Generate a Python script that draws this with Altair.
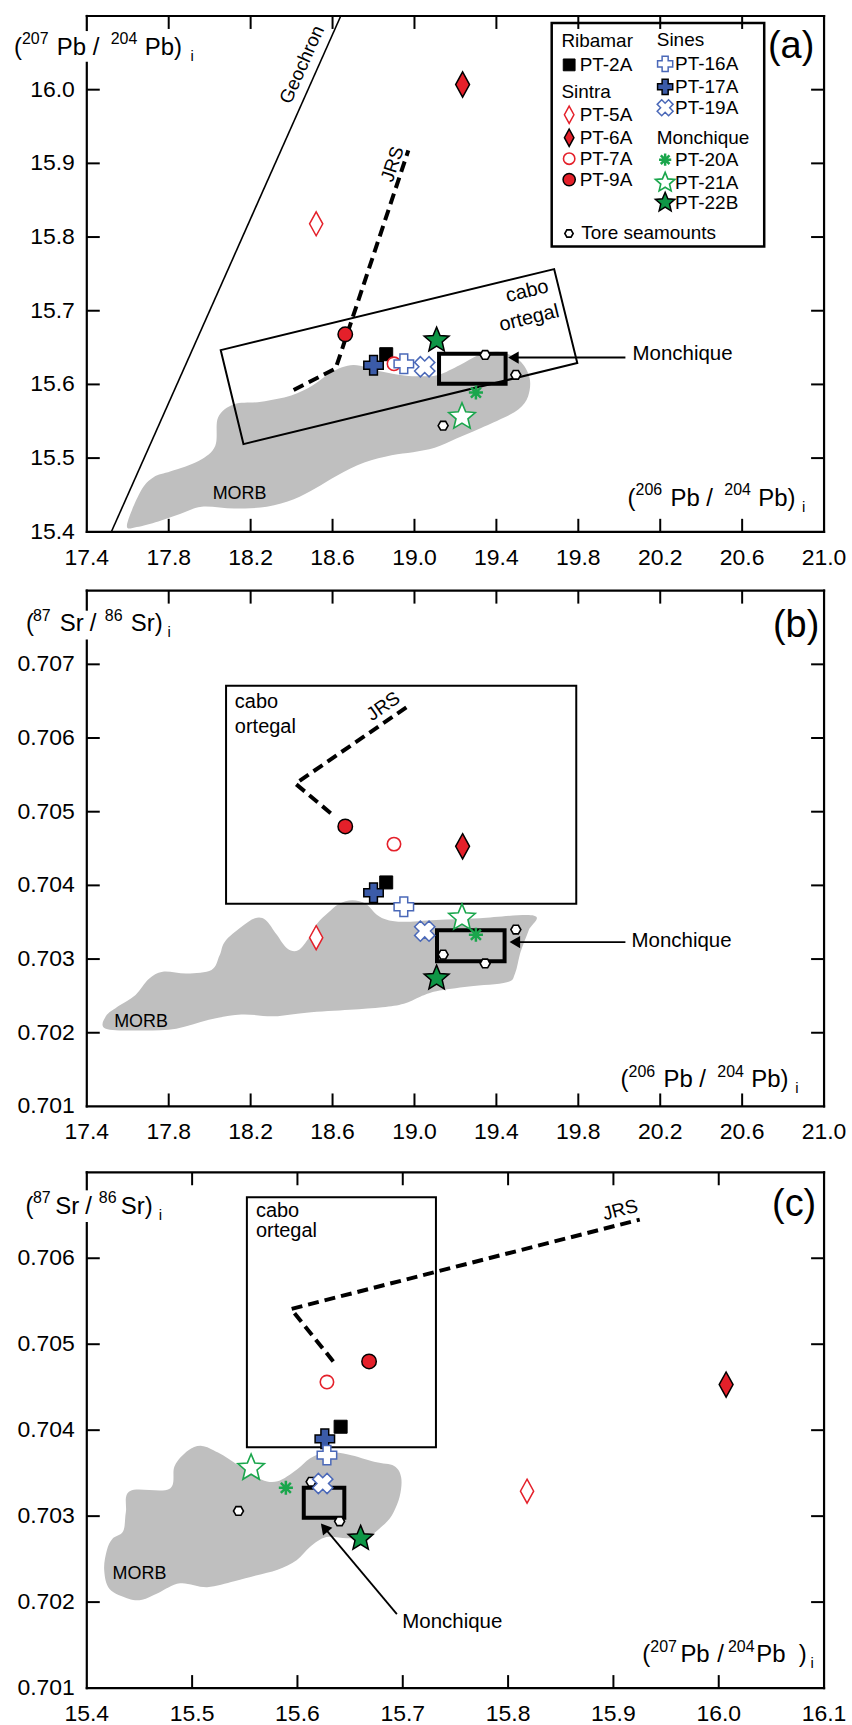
import altair as alt
import pandas as pd

# ---------------- data ----------------
samples = ["PT-2A", "PT-5A", "PT-6A", "PT-7A", "PT-9A", "PT-17A", "PT-16A",
           "PT-19A", "PT-20A", "PT-21A", "PT-22B"]
pb206 = [18.862, 18.52, 19.235, 18.90, 18.662, 18.80, 18.948, 19.05, 19.30, 19.232, 19.108]
pb207 = [15.641, 15.818, 16.007, 15.628, 15.668, 15.626, 15.628, 15.624, 15.589, 15.556, 15.660]
sr = [0.70404, 0.70329, 0.70453, 0.70456, 0.70480, 0.70390, 0.70371, 0.70338, 0.70333, 0.70356, 0.70274]

tore_pb206 = [19.495, 19.140, 19.345]
tore_pb207 = [15.613, 15.544, 15.640]
tore_sr = [0.70340, 0.70306, 0.70294]

# MORB field outlines
morb_a_x = [17.596, 17.663, 17.726, 17.81, 17.948, 18.027, 18.041, 18.12, 18.252, 18.398, 18.504,
            18.596, 18.702, 18.832, 18.95, 19.05, 19.12, 19.22, 19.32, 19.42, 19.514, 19.562,
            19.555, 19.51, 19.43, 19.311, 19.205, 19.099, 18.993, 18.888, 18.755, 18.623, 18.517,
            18.411, 18.279, 18.12, 17.961, 17.855, 17.749, 17.644]
morb_a_y = [15.409, 15.455, 15.474, 15.482, 15.4965, 15.5165, 15.555, 15.573, 15.5765, 15.585, 15.599,
            15.617, 15.6265, 15.618, 15.612, 15.611, 15.613, 15.626, 15.6406, 15.644, 15.632, 15.609,
            15.584, 15.5665, 15.554, 15.539, 15.5265, 15.514, 15.508, 15.504, 15.494, 15.4765, 15.459,
            15.444, 15.434, 15.4315, 15.434, 15.424, 15.414, 15.4065]
morb_b_x = [17.493, 17.678, 17.837, 17.996, 18.154, 18.313, 18.472, 18.684, 18.843, 18.948, 19.028,
            19.107, 19.266, 19.451, 19.491, 19.518, 19.557, 19.584, 19.319, 19.107, 18.948, 18.869,
            18.816, 18.763, 18.697, 18.631, 18.578, 18.525, 18.485, 18.432, 18.379, 18.326, 18.273,
            18.221, 18.154, 18.075, 18.048, 18.009, 17.890, 17.771, 17.704, 17.638, 17.559, 17.493]
morb_b_y = [0.702055, 0.702031, 0.702055, 0.702176, 0.702248, 0.702224, 0.702273, 0.702311, 0.702345,
            0.702394, 0.702490, 0.702563, 0.702626, 0.702684, 0.702805, 0.703095, 0.703385, 0.703589,
            0.703555, 0.703531, 0.703506, 0.703531, 0.703603, 0.703748, 0.703797, 0.703748, 0.703627,
            0.703482, 0.703289, 0.703119, 0.703144, 0.703337, 0.703531, 0.703555, 0.703434, 0.703240,
            0.703047, 0.702853, 0.702805, 0.702829, 0.702732, 0.702514, 0.702369, 0.702224]
morb_c_x = [15.4412, 15.4782, 15.4834, 15.4962, 15.5091, 15.5246, 15.5451, 15.5657, 15.5812, 15.5992,
            15.6121, 15.6275, 15.6481, 15.6738, 15.6918, 15.6985, 15.697, 15.6893, 15.679, 15.6687,
            15.6481, 15.6275, 15.6121, 15.5992, 15.5812, 15.5606, 15.54, 15.5143, 15.4885, 15.4679,
            15.4525, 15.4396, 15.4216, 15.4165, 15.419, 15.4242, 15.4345, 15.4371]
morb_c_y = [0.703293, 0.703315, 0.703584, 0.703763, 0.703817, 0.703740, 0.703584, 0.703427, 0.703405,
            0.703539, 0.703673, 0.703740, 0.703718, 0.703629, 0.703584, 0.703450, 0.703226, 0.703002,
            0.702868, 0.702779, 0.702743, 0.702756, 0.702644, 0.702488, 0.702376, 0.702309, 0.702242,
            0.702174, 0.702219, 0.702107, 0.702027, 0.702040, 0.702152, 0.702376, 0.702600, 0.702734,
            0.702823, 0.703047]

geochron_x = [17.52, 18.64]
geochron_y = [15.4, 16.1]

jrs_a_x = [18.41, 18.615, 18.97]
jrs_a_y = [15.5925, 15.6215, 15.9175]
jrs_b_x = [18.591, 18.419, 18.962]
jrs_b_y = [0.70498, 0.70538, 0.70642]
jrs_c_x = [15.634, 15.594, 15.925]
jrs_c_y = [0.70480, 0.70541, 0.70645]

cabo_a_x = [18.054, 19.682, 19.795, 18.165]
cabo_a_y = [15.6465, 15.7565, 15.629, 15.519]
cabo_b = [18.08, 19.79, 0.70375, 0.70671]
cabo_c = [15.552, 15.7315, 0.7038, 0.70671]

mon_a = [19.12, 19.445, 15.601, 15.6415]
mon_b = [19.11, 19.44, 0.70297, 0.70339]
mon_c = [15.606, 15.6445, 0.70298, 0.70333]

# axis values / tick labels
xa_vals = [17.4, 17.8, 18.2, 18.6, 19.0, 19.4, 19.8, 20.2, 20.6, 21.0]
ya_vals = [15.4, 15.5, 15.6, 15.7, 15.8, 15.9, 16.0]
yb_vals = [0.701, 0.702, 0.703, 0.704, 0.705, 0.706, 0.707]
xc_vals = [15.4, 15.5, 15.6, 15.7, 15.8, 15.9, 16.0, 16.1]
yc_vals = [0.701, 0.702, 0.703, 0.704, 0.705, 0.706]

# ---------------- styles ----------------
W, H = 739, 517
TICK = 13
FONT = "Liberation Sans"
LABEL_FS = 23
RED = "#e4202a"
BLUE = "#3b5ba8"
BLUE_L = "#4a68b8"
GREEN = "#1aa64c"
GREEN_D = "#0e9646"
GRAY = "#bfbfbf"

DIAMOND = "M0,-1L0.55,0L0,1L-0.55,0Z"
STAR = ("M0,-1L0.265,-0.364L0.951,-0.309L0.428,0.139L0.588,0.809L0,0.45L-0.588,0.809"
        "L-0.428,0.139L-0.951,-0.309L-0.265,-0.364Z")
AST = "M0,-1L0,1M-1,0L1,0M-0.71,-0.71L0.71,0.71M-0.71,0.71L0.71,-0.71"
HEX = "M1,0L0.5,0.866L-0.5,0.866L-1,0L-0.5,-0.866L0.5,-0.866Z"

style = {
    "PT-2A": dict(shape="square", fill="black", stroke="black", size=170, sw=1, angle=0),
    "PT-5A": dict(shape=DIAMOND, fill="white", stroke=RED, size=580, sw=1.5, angle=0),
    "PT-6A": dict(shape=DIAMOND, fill=RED, stroke="black", size=640, sw=1.5, angle=0),
    "PT-7A": dict(shape="circle", fill="white", stroke=RED, size=180, sw=1.6, angle=0),
    "PT-9A": dict(shape="circle", fill=RED, stroke="black", size=210, sw=1.5, angle=0),
    "PT-16A": dict(shape="cross", fill="white", stroke=BLUE_L, size=380, sw=1.5, angle=0),
    "PT-17A": dict(shape="cross", fill=BLUE, stroke="black", size=380, sw=1.5, angle=0),
    "PT-19A": dict(shape="cross", fill="white", stroke=BLUE_L, size=420, sw=1.5, angle=45),
    "PT-20A": dict(shape=AST, fill="transparent", stroke=GREEN, size=200, sw=2.5, angle=0),
    "PT-21A": dict(shape=STAR, fill="white", stroke=GREEN, size=780, sw=1.6, angle=0),
    "PT-22B": dict(shape=STAR, fill=GREEN_D, stroke="black", size=690, sw=1.5, angle=0),
    "Tore": dict(shape=HEX, fill="white", stroke="black", size=100, sw=1.6, angle=0),
}
leg_size = {"PT-2A": 140, "PT-5A": 300, "PT-6A": 300, "PT-7A": 130, "PT-9A": 150, "PT-16A": 230,
            "PT-17A": 230, "PT-19A": 260, "PT-20A": 150, "PT-21A": 420, "PT-22B": 420, "Tore": 70}

one = pd.DataFrame({"a": [0]})


def sample_table(xv, yv, txv, tyv):
    rows = []
    for x, y in zip(txv, tyv):
        rows.append(dict(x=x, y=y, **style["Tore"]))
    for s, x, y in zip(samples, xv, yv):
        rows.append(dict(x=x, y=y, **style[s]))
    return pd.DataFrame(rows)


def points_layer(df, xs, ys):
    return alt.Chart(df).mark_point(filled=True, opacity=1).encode(
        x=alt.X("x:Q", scale=xs, axis=None), y=alt.Y("y:Q", scale=ys, axis=None),
        shape=alt.Shape("shape:N", scale=None), fill=alt.Fill("fill:N", scale=None),
        stroke=alt.Stroke("stroke:N", scale=None), size=alt.Size("size:Q", scale=None),
        strokeWidth=alt.StrokeWidth("sw:Q", scale=None), angle=alt.Angle("angle:Q", scale=None))


def label_layers(xv, yv, xs, ys, yfmt):
    dx = pd.DataFrame({"v": xv, "lab": [f"{v:.1f}" for v in xv]})
    dy = pd.DataFrame({"v": yv, "lab": [format(v, yfmt) for v in yv]})
    xl = alt.Chart(dx).mark_text(font=FONT, fontSize=LABEL_FS, align="center", baseline="alphabetic",
                                 color="black").encode(
        x=alt.X("v:Q", scale=xs, axis=None), y=alt.value(H + 33), text="lab:N")
    yl = alt.Chart(dy).mark_text(font=FONT, fontSize=LABEL_FS, align="right", baseline="middle",
                                 color="black").encode(
        y=alt.Y("v:Q", scale=ys, axis=None), x=alt.value(-12), text="lab:N")
    return [xl, yl]


def morb_layer(mx, my, xs, ys):
    df = pd.DataFrame({"x": mx, "y": my, "i": list(range(len(mx)))})
    return alt.Chart(df).mark_line(fill=GRAY, stroke="transparent", interpolate="cardinal-closed").encode(
        x=alt.X("x:Q", scale=xs, axis=None), y=alt.Y("y:Q", scale=ys, axis=None), order="i:Q")


def path_layer(px, py, xs, ys, closed=False, dash=None, width=2.0):
    df = pd.DataFrame({"x": px, "y": py, "i": list(range(len(px)))})
    kw = dict(color="black", strokeWidth=width, interpolate="linear-closed" if closed else "linear")
    if dash:
        kw["strokeDash"] = dash
    return alt.Chart(df).mark_line(**kw).encode(
        x=alt.X("x:Q", scale=xs, axis=None), y=alt.Y("y:Q", scale=ys, axis=None), order="i:Q")


def rect_layer(r, xs, ys, width):
    df = pd.DataFrame({"x1": [r[0]], "x2": [r[1]], "y1": [r[2]], "y2": [r[3]]})
    return alt.Chart(df).mark_rect(fill="transparent", stroke="black", strokeWidth=width).encode(
        x=alt.X("x1:Q", scale=xs, axis=None), x2="x2:Q",
        y=alt.Y("y1:Q", scale=ys, axis=None), y2="y2:Q")


def arrow_layers(x0, y0, x1, y1, hx, hy, shape, ang, xs, ys):
    line = alt.Chart(pd.DataFrame({"x": [x0], "y": [y0], "x2": [x1], "y2": [y1]})).mark_rule(
        color="black", strokeWidth=1.8).encode(
        x=alt.X("x:Q", scale=xs, axis=None), y=alt.Y("y:Q", scale=ys, axis=None), x2="x2:Q", y2="y2:Q")
    head = alt.Chart(pd.DataFrame({"x": [hx], "y": [hy]})).mark_point(
        shape=shape, filled=True, color="black", size=150, opacity=1, angle=ang).encode(
        x=alt.X("x:Q", scale=xs, axis=None), y=alt.Y("y:Q", scale=ys, axis=None))
    return [line, head]


def data_text_layer(rows, xs, ys, align="center"):
    df = pd.DataFrame(rows, columns=["t", "x", "y", "angle", "fs"])
    return alt.Chart(df).mark_text(font=FONT, align=align, baseline="middle", color="black").encode(
        x=alt.X("x:Q", scale=xs, axis=None), y=alt.Y("y:Q", scale=ys, axis=None), text="t:N",
        angle=alt.Angle("angle:Q", scale=None), size=alt.Size("fs:Q", scale=None))


def px_text_layer(rows, align="left", baseline="alphabetic"):
    df = pd.DataFrame(rows, columns=["t", "px", "py", "fs"])
    return alt.Chart(df).mark_text(font=FONT, align=align, baseline=baseline, color="black").encode(
        x=alt.X("px:Q", scale=None, axis=None), y=alt.Y("py:Q", scale=None, axis=None), text="t:N",
        size=alt.Size("fs:Q", scale=None))


def tick_layers(xv, yv, xs, ys):
    dx = pd.DataFrame({"v": xv})
    dy = pd.DataFrame({"v": yv})
    out = []
    for a, b in ((H, H - TICK), (0, TICK)):
        out.append(alt.Chart(dx).mark_rule(color="black", strokeWidth=2).encode(
            x=alt.X("v:Q", scale=xs, axis=None), y=alt.value(a), y2=alt.value(b)))
    for a, b in ((0, TICK), (W, W - TICK)):
        out.append(alt.Chart(dy).mark_rule(color="black", strokeWidth=2).encode(
            y=alt.Y("v:Q", scale=ys, axis=None), x=alt.value(a), x2=alt.value(b)))
    return out


def frame_layers(g0, g1):
    segs = [dict(x=alt.value(0), x2=alt.value(W), y=alt.value(0)),
            dict(x=alt.value(0), x2=alt.value(W), y=alt.value(H)),
            dict(x=alt.value(W), y=alt.value(0), y2=alt.value(H)),
            dict(x=alt.value(0), y=alt.value(0), y2=alt.value(g0)),
            dict(x=alt.value(0), y=alt.value(g1), y2=alt.value(H))]
    return [alt.Chart(one).mark_rule(color="black", strokeWidth=2.2, strokeCap="square").encode(**s)
            for s in segs]


# ---------------- panel (a) ----------------
xs_a = alt.Scale(domain=[17.4, 21.0], nice=False, zero=False)
ys_a = alt.Scale(domain=[15.4, 16.1], nice=False, zero=False)

legend_col1 = [("Ribamar", None, 25), ("PT-2A", "PT-2A", 49), ("Sintra", None, 76),
               ("PT-5A", "PT-5A", 99), ("PT-6A", "PT-6A", 122), ("PT-7A", "PT-7A", 143),
               ("PT-9A", "PT-9A", 164)]
legend_col2 = [("Sines", None, 24), ("PT-16A", "PT-16A", 48), ("PT-17A", "PT-17A", 71),
               ("PT-19A", "PT-19A", 92), ("Monchique", None, 122), ("PT-20A", "PT-20A", 144),
               ("PT-21A", "PT-21A", 167), ("PT-22B", "PT-22B", 187)]
leg_text, leg_mark = [], []
for col, (hx, mx, tx) in ((legend_col1, (475.7, 483.5, 494)), (legend_col2, (571.3, 579.7, 589.7))):
    for label, key, yy in col:
        if key is None:
            leg_text.append((label, hx, yy, 19))
        else:
            leg_text.append((label, tx, yy, 19))
            leg_mark.append(dict(x=mx, y=yy, **dict(style[key], size=leg_size[key])))
leg_text.append(("Tore seamounts", 495.7, 218, 19))
leg_mark.append(dict(x=483.3, y=218, **dict(style["Tore"], size=leg_size["Tore"])))
leg_mark_df = pd.DataFrame(leg_mark)

legend_layers = [
    alt.Chart(one).mark_rect(fill="white", stroke="black", strokeWidth=2.5).encode(
        x=alt.value(466), x2=alt.value(679), y=alt.value(7), y2=alt.value(231)),
    alt.Chart(leg_mark_df).mark_point(filled=True, opacity=1).encode(
        x=alt.X("x:Q", scale=None, axis=None), y=alt.Y("y:Q", scale=None, axis=None),
        shape=alt.Shape("shape:N", scale=None), fill=alt.Fill("fill:N", scale=None),
        stroke=alt.Stroke("stroke:N", scale=None), size=alt.Size("size:Q", scale=None),
        strokeWidth=alt.StrokeWidth("sw:Q", scale=None), angle=alt.Angle("angle:Q", scale=None)),
    px_text_layer(leg_text, "left", "middle"),
]

title_a = [("(", -73, 39, 24), ("207", -65, 28, 16), ("Pb", -30, 39, 24), ("/", 6, 39, 24),
           ("204", 24, 28, 16), ("Pb)", 58, 39, 24), ("i", 104, 45, 15),
           ("(", 542, 491, 24), ("206", 550, 480, 16), ("Pb", 585, 491, 24), ("/", 621, 491, 24),
           ("204", 639, 480, 16), ("Pb)", 673, 491, 24), ("i", 717, 497, 15)]

panel_a = alt.layer(
    morb_layer(morb_a_x, morb_a_y, xs_a, ys_a),
    path_layer(geochron_x, geochron_y, xs_a, ys_a, width=1.6),
    path_layer(cabo_a_x, cabo_a_y, xs_a, ys_a, closed=True, width=2.0),
    path_layer(jrs_a_x, jrs_a_y, xs_a, ys_a, dash=[11, 6], width=4),
    rect_layer(mon_a, xs_a, ys_a, 4),
    *arrow_layers(20.03, 15.6365, 19.49, 15.6365, 19.483, 15.6365, "triangle-left", 0, xs_a, ys_a),
    data_text_layer([("Geochron", 18.451, 16.034, 294, 19), ("JRS", 18.893, 15.899, 288.5, 19),
                     ("cabo", 19.55, 15.7265, 346.3, 20), ("ortegal", 19.56, 15.69, 346.3, 20),
                     ("MORB", 18.146, 15.4515, 0, 18)], xs_a, ys_a),
    data_text_layer([("Monchique", 20.065, 15.6415, 0, 20.5)], xs_a, ys_a, align="left"),
    points_layer(sample_table(pb206, pb207, tore_pb206, tore_pb207), xs_a, ys_a),
    *legend_layers,
    px_text_layer(title_a),
    px_text_layer([("(a)", 706, 42, 38)], "center"),
    *tick_layers(xa_vals[1:-1], ya_vals[1:], xs_a, ys_a),
    *label_layers(xa_vals, ya_vals, xs_a, ys_a, ".1f"),
    *frame_layers(14, 47),
).properties(width=W, height=H)

# ---------------- panel (b) ----------------
xs_b = alt.Scale(domain=[17.4, 21.0], nice=False, zero=False)
ys_b = alt.Scale(domain=[0.701, 0.708], nice=False, zero=False)

title_b = [("(", -61, 40, 24), ("87", -54, 30, 16), ("Sr", -27, 40, 24), ("/", 3, 40, 24),
           ("86", 18, 30, 16), ("Sr)", 44, 40, 24), ("i", 81, 46, 15),
           ("(", 535, 498, 24), ("206", 543, 487, 16), ("Pb", 578, 498, 24), ("/", 614, 498, 24),
           ("204", 632, 487, 16), ("Pb)", 666, 498, 24), ("i", 710, 504, 15)]

panel_b = alt.layer(
    morb_layer(morb_b_x, morb_b_y, xs_b, ys_b),
    rect_layer(cabo_b, xs_b, ys_b, 2),
    path_layer(jrs_b_x, jrs_b_y, xs_b, ys_b, dash=[11, 6], width=4),
    rect_layer(mon_b, xs_b, ys_b, 4),
    *arrow_layers(20.03, 0.70323, 19.49, 0.70323, 19.49, 0.70323, "triangle-left", 0, xs_b, ys_b),
    data_text_layer([("JRS", 18.848, 0.70643, 325, 19), ("MORB", 17.665, 0.70215, 0, 18)], xs_b, ys_b),
    data_text_layer([("cabo", 18.123, 0.706482, 0, 20), ("ortegal", 18.123, 0.706143, 0, 20),
                     ("Monchique", 20.06, 0.70325, 0, 20.5)], xs_b, ys_b, align="left"),
    points_layer(sample_table(pb206, sr, tore_pb206, tore_sr), xs_b, ys_b),
    px_text_layer(title_b),
    px_text_layer([("(b)", 711, 46, 38)], "center"),
    *tick_layers(xa_vals[1:-1], yb_vals[1:], xs_b, ys_b),
    *label_layers(xa_vals, yb_vals, xs_b, ys_b, ".3f"),
    *frame_layers(19, 50),
).properties(width=W, height=H)

# ---------------- panel (c) ----------------
xs_c = alt.Scale(domain=[15.4, 16.1], nice=False, zero=False)
ys_c = alt.Scale(domain=[0.701, 0.707], nice=False, zero=False)

title_c = [("(", -61.5, 42, 24), ("87", -54, 31, 16), ("Sr", -31.5, 42, 24), ("/", -1.5, 42, 24),
           ("86", 12, 31, 16), ("Sr)", 34, 42, 24), ("i", 72, 48, 15),
           ("(", 556.7, 491, 24), ("207", 564.8, 481, 16), ("Pb", 595, 491, 24), ("/", 632, 491, 24),
           ("204", 642.7, 481, 16), ("Pb", 671, 491, 24), (")", 713.6, 491, 24), ("i", 725.5, 497, 15)]

spacer = alt.Chart(one).mark_rule(strokeOpacity=0).encode(x=alt.value(0), y=alt.value(-9), y2=alt.value(0))

panel_c = alt.layer(
    morb_layer(morb_c_x, morb_c_y, xs_c, ys_c),
    rect_layer(cabo_c, xs_c, ys_c, 2),
    path_layer(jrs_c_x, jrs_c_y, xs_c, ys_c, dash=[11, 6], width=4),
    rect_layer(mon_c, xs_c, ys_c, 4),
    *arrow_layers(15.6944, 0.70186, 15.6255, 0.702867, 15.6255, 0.702867, "triangle-up", 320, xs_c, ys_c),
    data_text_layer([("JRS", 15.9065, 0.70656, 345.6, 19), ("MORB", 15.45, 0.70233, 0, 18)], xs_c, ys_c),
    data_text_layer([("cabo", 15.5606, 0.706546, 0, 20), ("ortegal", 15.5606, 0.706313, 0, 20),
                     ("Monchique", 15.6996, 0.70177, 0, 20.5)], xs_c, ys_c, align="left"),
    points_layer(sample_table(pb207, sr, tore_pb207, tore_sr), xs_c, ys_c),
    px_text_layer(title_c),
    px_text_layer([("(c)", 709, 44, 38)], "center"),
    *tick_layers(xc_vals[1:-1], yc_vals[1:], xs_c, ys_c),
    *label_layers(xc_vals, yc_vals, xs_c, ys_c, ".3f"),
    *frame_layers(17, 51),
    spacer,
).properties(width=W, height=H)

chart = alt.vconcat(panel_a, panel_b, panel_c, spacing=17).properties(
    padding={"left": 13, "top": 10, "right": 5, "bottom": 2}
).configure_view(stroke="transparent")

chart.save("out.html", embed_options={"renderer": "svg", "actions": False})
